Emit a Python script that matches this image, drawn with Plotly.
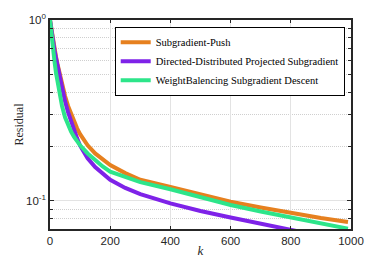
import plotly.graph_objects as go

k = [0, 5, 10, 15, 20, 25, 30, 40, 50, 60, 70, 80, 90, 100, 125, 150, 175,
     200, 250, 300, 400, 500, 600, 700, 800, 900, 990]

subgradient_push = [1.0, 0.87, 0.77, 0.69, 0.625, 0.57, 0.52, 0.44, 0.38, 0.335,
                    0.302, 0.275, 0.252, 0.234, 0.203, 0.183, 0.169, 0.158,
                    0.1425, 0.131, 0.1195, 0.1085, 0.099, 0.092, 0.0858,
                    0.0805, 0.0766]
ddps = [1.0, 0.86, 0.76, 0.68, 0.615, 0.555, 0.50, 0.415, 0.355, 0.31, 0.275,
        0.247, 0.222, 0.202, 0.172, 0.154, 0.141, 0.131, 0.118, 0.109, 0.097,
        0.088, 0.081, 0.0745, 0.069, 0.064, 0.060]
wbsd = [1.0, 0.80, 0.69, 0.59, 0.51, 0.45, 0.40, 0.335, 0.29, 0.262, 0.242,
        0.226, 0.213, 0.203, 0.183, 0.167, 0.155, 0.145, 0.1355, 0.127, 0.116,
        0.105, 0.095, 0.0875, 0.081, 0.0752, 0.0703]

names = ["Subgradient-Push", "Directed-Distributed Projected Subgradient",
         "WeightBalencing Subgradient Descent"]
colors = ["#E6801F", "#7E22E8", "#2DE58A"]

x_ticks = [0, 200, 400, 600, 800, 1000]
y_major = [0.1, 1]
y_major_text = ["10<sup>-1</sup>", "10<sup>0</sup>"]
y_minor = [0.07, 0.08, 0.09, 0.2, 0.3, 0.4, 0.5, 0.6, 0.7, 0.8, 0.9]

fig = go.Figure()
for name, ys, c in zip(names, [subgradient_push, ddps, wbsd], colors):
    fig.add_trace(go.Scatter(x=k, y=ys, name=name, mode="lines",
                             line=dict(color=c, width=4)))

axcol = "#262626"
serif = "Times New Roman, Liberation Serif, serif"
sans = "Liberation Sans, Arial, sans-serif"
# the page body has an 8px default margin, so the figure is drawn 8px in
fig.update_layout(
    width=380, height=253,
    margin=dict(l=42, r=37, t=12, b=32),
    paper_bgcolor="white", plot_bgcolor="white",
    showlegend=True,
    legend=dict(x=0.215, y=0.968, xanchor="left", yanchor="top",
                bgcolor="white", bordercolor="black", borderwidth=1,
                font=dict(family=serif, size=10.5, color="black"),
                tracegroupgap=0, itemwidth=30),
    font=dict(family=sans, size=11, color=axcol),
)
fig.update_xaxes(
    range=[0, 1000], tickvals=x_ticks, ticks="inside", ticklen=3,
    tickcolor=axcol, showline=True, linecolor=axcol, linewidth=1.5,
    mirror="ticks", showgrid=True, gridcolor="#E3E3E3", gridwidth=1.3,
    zeroline=False, automargin=False,
    tickfont=dict(family=sans, size=11.5, color=axcol),
    title=dict(text="<i>k</i>", font=dict(family=serif, size=13, color=axcol),
               standoff=0),
)
fig.update_yaxes(
    type="log", range=[-1.155, 0], tickvals=y_major, ticktext=y_major_text,
    ticks="inside", ticklen=4, tickcolor=axcol, showline=True, linecolor=axcol,
    linewidth=1.5, mirror="ticks", showgrid=True, gridcolor="#E3E3E3",
    gridwidth=1.3, zeroline=False, automargin=False,
    minor=dict(tickvals=y_minor, ticks="inside", ticklen=3, tickcolor=axcol,
               showgrid=True, gridcolor="#CFCFCF", griddash="1px,1px", gridwidth=1),
    tickfont=dict(family=sans, size=11.5, color=axcol),
    title=dict(text="Residual", font=dict(family=serif, size=12, color=axcol),
               standoff=0),
)
fig.write_html("out.html")
